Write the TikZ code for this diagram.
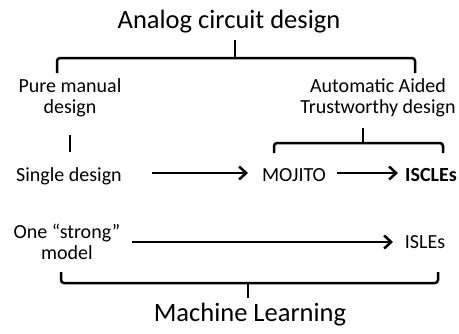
\documentclass[tikz,border=0pt]{standalone}
\usepackage{fontspec}
\setmainfont{Carlito}
\usetikzlibrary{arrows.meta}
\begin{document}
\begin{tikzpicture}[x=1pt,y=-1pt,
  big/.style={font=\fontsize{26.5}{30}\selectfont, inner sep=0pt, anchor=base},
  lbl/.style={font=\fontsize{20}{20.5}\selectfont, inner sep=0pt, anchor=base, align=center},
  brace/.style={line width=2.5pt, rounded corners=3pt},
  link/.style={line width=2.5pt, -{Straight Barb[length=7pt,width=13pt,line width=2.5pt]}}
]
\useasboundingbox (0,0) rectangle (459,333);

% headings
\node[big] (acd) at (229,28) {Analog circuit design};
\node[big] (ml) at (250,321) {Machine Learning};

% labels (multi-line nodes sit on the baseline of their last line)
\node[lbl] (pm) at (70,113) {Pure manual\\design};
\node[lbl] (aat) at (378,113) {Automatic Aided\\Trustworthy design};
\node[lbl] (sd) at (69,181) {Single design};
\node[lbl] (moj) at (294,181) {MOJITO};
\node[lbl,font=\fontsize{20}{20.5}\selectfont\bfseries] (iscle) at (431,181) {ISCLEs};
\node[lbl] (osm) at (67,259) {One “strong”\\model};
\node[lbl] (isle) at (425,248) {ISLEs};

% top brace
\coordinate (tL) at (57,73);
\coordinate (tM) at (235,58);
\coordinate (tT) at (235,40);
\coordinate (tR) at (415,73);
\draw[brace] (tL) |- (tM) -| (tR);
\draw[brace] (tM) -- (tT);

% brace over the automatic tools
\coordinate (aL) at (274,153);
\coordinate (aM) at (363,143);
\coordinate (aT) at (363,128);
\coordinate (aR) at (443,153);
\draw[brace] (aL) |- (aM) -| (aR);
\draw[brace] (aM) -- (aT);

% manual design leads to a single design
\coordinate (m1) at (70,135);
\coordinate (m2) at (70,152);
\draw[line width=2.5pt] (m1) -- (m2);

% bottom brace
\coordinate (bL) at (61,272);
\coordinate (bM) at (248,283);
\coordinate (bB) at (248,298);
\coordinate (bR) at (438,272);
\draw[brace] (bL) |- (bM) -| (bR);
\draw[brace] (bM) -- (bB);

% arrows
\coordinate (s1) at (152,173);
\coordinate (e1) at (248,173);
\coordinate (s2) at (337,173);
\coordinate (e2) at (398,173);
\coordinate (s3) at (132,242);
\coordinate (e3) at (393,242);
\draw[link] (s1) -- (e1);
\draw[link] (s2) -- (e2);
\draw[link] (s3) -- (e3);
\end{tikzpicture}
\end{document}
